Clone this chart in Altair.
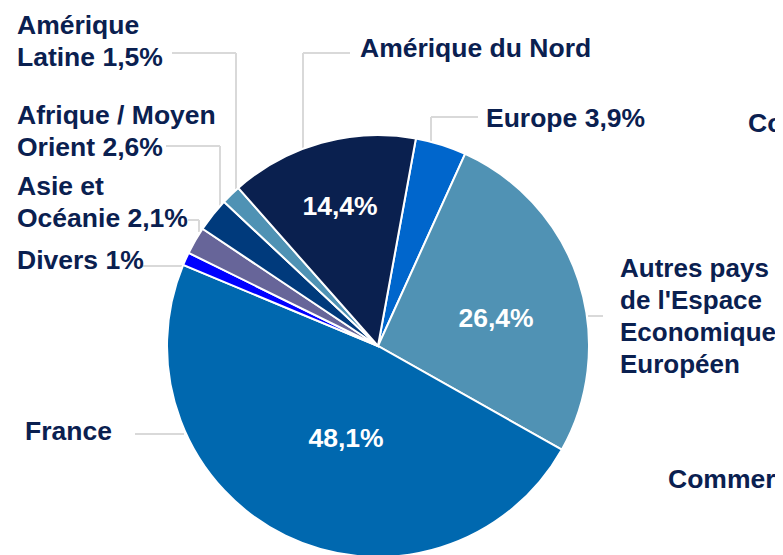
import math
import altair as alt
import pandas as pd

# ---- data ----
regions = ["Europe", "Autres pays de l'Espace Economique Européen", "France", "Divers",
           "Asie et Océanie", "Afrique / Moyen Orient", "Amérique Latine", "Amérique du Nord"]
shares = [3.9, 26.4, 48.1, 1.0, 2.1, 2.6, 1.5, 14.4]
colors = ["#0066CC", "#5092B4", "#0068AF", "#0000FF", "#676599", "#003A7C", "#4F92B4", "#0A204F"]

# label texts (multi-line)
label_lines = [
    ["Amérique", "Latine 1,5%"],
    ["Amérique du Nord"],
    ["Afrique / Moyen", "Orient 2,6%"],
    ["Asie et", "Océanie 2,1%"],
    ["Divers 1%"],
    ["Europe 3,9%"],
    ["Autres pays", "de l'Espace", "Economique", "Européen"],
    ["France"],
    ["Co"],
    ["Commerc"],
]
inner_labels = ["14,4%", "26,4%", "48,1%"]

# ---- layout (pixels, page coords; page margin 8 px) ----
OFF = 8
CX, CY, R = 378, 346, 211
START = math.radians(10.35)
label_pos = [(17, 34), (360, 57), (17, 124), (17, 195), (17, 269), (486, 127),
             (620, 277), (25, 440), (748, 132), (668, 488)]
label_size = [26.5, 26.5, 26.5, 26.5, 26.5, 26.5, 26, 26.5, 26.5, 26.5]
line_gap = 32
inner_pos = [(340, 207), (496, 319), (346, 439)]
leaders = [
    [(172, 53), (236, 53), (236, 189)],
    [(350, 53), (303, 53), (303, 149)],
    [(166, 146), (220, 146), (220, 206)],
    [(188, 220), (199, 220), (199, 232)],
    [(140, 266), (186, 266)],
    [(478, 117), (431, 117), (431, 142)],
    [(588, 316), (603, 316)],
    [(135, 434), (184, 434)],
]

TEXT_COLOR = "#0A2050"
FONT = "Liberation Sans"
FS = 26.5

pie_df = pd.DataFrame({"region": regions, "share": shares, "order": list(range(len(regions)))})

pie = alt.Chart(pie_df).mark_arc(outerRadius=R, stroke="white", strokeWidth=2).encode(
    theta=alt.Theta("share:Q", stack=True,
                    scale=alt.Scale(range=[START, START + 2 * math.pi])),
    order=alt.Order("order:Q"),
    color=alt.Color("region:N", scale=alt.Scale(domain=regions, range=colors), legend=None),
    x=alt.value(CX - OFF),
    y=alt.value(CY - OFF),
)

txt_rows = []
for lines, (lx, ly), fs in zip(label_lines, label_pos, label_size):
    for i, t in enumerate(lines):
        txt_rows.append({"t": t, "x": lx - OFF, "y": ly - OFF + i * line_gap, "fs": fs})
txt_df = pd.DataFrame(txt_rows)

labels = alt.Chart(txt_df).mark_text(
    align="left", baseline="alphabetic", font=FONT, fontWeight="bold",
    color=TEXT_COLOR,
).encode(
    x=alt.X("x:Q", scale=None, axis=None),
    y=alt.Y("y:Q", scale=None, axis=None),
    size=alt.Size("fs:Q", scale=None, legend=None),
    text="t:N",
)

in_df = pd.DataFrame({"t": inner_labels,
                      "x": [p[0] - OFF for p in inner_pos],
                      "y": [p[1] - OFF for p in inner_pos]})
inner = alt.Chart(in_df).mark_text(
    align="center", baseline="middle", font=FONT, fontSize=FS, fontWeight="bold",
    color="white",
).encode(
    x=alt.X("x:Q", scale=None, axis=None),
    y=alt.Y("y:Q", scale=None, axis=None),
    text="t:N",
)

seg_rows = []
for pts in leaders:
    for (x1, y1), (x2, y2) in zip(pts[:-1], pts[1:]):
        seg_rows.append({"x": x1 - OFF, "y": y1 - OFF, "x2": x2 - OFF, "y2": y2 - OFF})
seg_df = pd.DataFrame(seg_rows)
rules = alt.Chart(seg_df).mark_rule(color="#D9D9D9", strokeWidth=2).encode(
    x=alt.X("x:Q", scale=None, axis=None),
    y=alt.Y("y:Q", scale=None, axis=None),
    x2="x2:Q",
    y2="y2:Q",
)

chart = alt.layer(rules, pie, labels, inner).properties(
    width=767, height=547, padding=0, autosize="none",
).configure_view(stroke=None)

chart.save("out.html", embed_options={"renderer": "svg", "actions": False})
